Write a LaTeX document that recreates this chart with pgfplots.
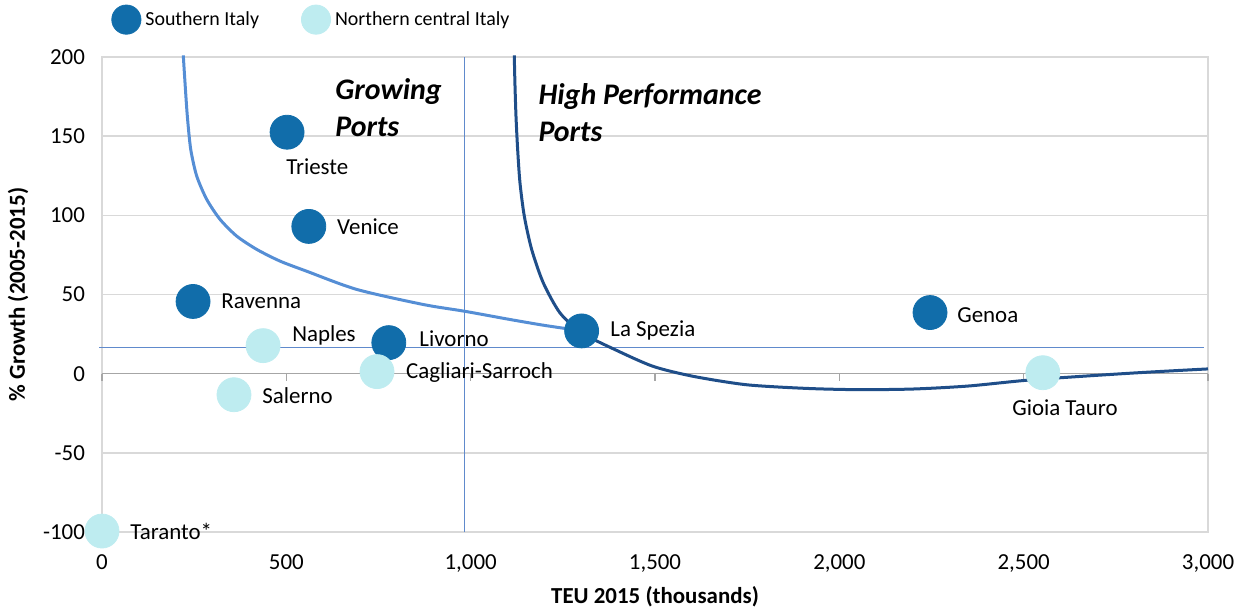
\documentclass[border=0pt]{standalone}
\usepackage{pgfplots}
\pgfplotsset{compat=1.18}
\usepackage{fontspec}
\setmainfont{Carlito}

\definecolor{southc}{RGB}{17,109,170}
\definecolor{northc}{RGB}{190,236,240}
\definecolor{growc}{RGB}{85,142,213}
\definecolor{highc}{RGB}{31,78,137}
\definecolor{refc}{RGB}{96,138,204}
\definecolor{gridc}{RGB}{217,217,217}
\definecolor{axc}{RGB}{166,166,166}

\newcommand{\lbl}{\fontsize{11.5}{13.8}\selectfont}

\begin{document}
\begin{tikzpicture}
\begin{axis}[
  width=553bp, height=237.5bp, scale only axis,
  xmin=0, xmax=3000, ymin=-100, ymax=200,
  xtick={0,500,...,3000}, ytick={-100,-50,...,200},
  /pgf/number format/1000 sep={,},
  /pgf/number format/assume math mode=true,
  tick style={draw=none},
  ymajorgrids, grid style={gridc, line width=0.75bp},
  axis line style={gridc, line width=0.75bp},
  ticklabel style={font=\lbl},
  yticklabel style={xshift=-5bp},
  xticklabel style={yshift=-8bp},
  clip=false,
  legend columns=2,
  legend style={at={(rel axis cs:0,1)}, anchor=south west, xshift=1.5bp, yshift=9bp,
    draw=none, fill=none, font=\fontsize{10}{12}\selectfont,
    /tikz/every even column/.append style={column sep=19bp}},
  legend image code/.code={\fill[#1] (7.3bp,0bp) circle (7.3bp);},
]
% x axis line at zero with its ticks
\draw[axc, line width=0.75bp] (axis cs:0,0) -- (axis cs:3000,0);
\pgfplotsinvokeforeach{0,500,1000,1500,2000,2500,3000}{
  \draw[axc, line width=0.75bp] (axis cs:#1,0) -- ([yshift=-3.5bp]axis cs:#1,0);
}

% Southern Italy (dark)
\addplot[only marks, mark=*, mark size=8.5bp, color=southc, mark options={draw=none}]
  coordinates {(502,152.5) (561,93) (247,45.6) (778,19.6) (1301,27) (2246,38.6)};
\addlegendentry{Southern Italy}

% Northern central Italy (light)
\addplot[only marks, mark=*, mark size=8.5bp, color=northc, mark options={draw=none}]
  coordinates {(437,17.7) (358,-13.3) (746,1.3) (2552,0.6) (0,-99.4)};
\addlegendentry{Northern central Italy}

% reference lines
\addplot[refc, line width=0.7bp, forget plot] coordinates {(-8,16.5) (2990,16.5)};
\addplot[refc, line width=0.7bp, forget plot] coordinates {(983,-100) (983,200)};

% Growing ports frontier
\addplot[growc, line width=1.5bp, smooth, tension=0.45, forget plot] coordinates {
  (220.5,201) (225.1,184) (231.4,162.8) (240.6,141.8) (256.8,124.9) (284,110.1)
  (320,97.5) (365.3,86.9) (419.6,78.5) (482.8,71.1) (555.2,64.7) (691,53.2)
  (871,43.7) (984,39.4) (1107,34.2) (1200,30.5) (1302,27)};

% High performance frontier
\addplot[highc, line width=1.5bp, smooth, tension=0.45, forget plot] coordinates {
  (1118.3,201) (1120,184) (1122.9,162.8) (1127.4,141.8) (1133.7,120.7)
  (1145.4,99.6) (1165.4,78.5) (1196.9,57.4) (1242.2,38.4) (1301,25.8)
  (1391.4,15.2) (1495,4.6) (1604,-1.7) (1748,-7) (1910,-9.3) (2050,-10.1)
  (2200,-9.7) (2350,-7.8) (2526,-3.8) (2797,0.4) (3000,3)};

% point labels
\node[font=\lbl, inner sep=0] at (axis cs:584,131) {Trieste};
\node[font=\lbl, anchor=west, inner sep=0] at (axis cs:637,93) {Venice};
\node[font=\lbl, anchor=west, inner sep=0] at (axis cs:323,45.6) {Ravenna};
\node[font=\lbl, anchor=west, inner sep=0] at (axis cs:515,24) {Naples};
\node[font=\lbl, anchor=west, inner sep=0] at (axis cs:860,22) {Livorno};
\node[font=\lbl, anchor=west, inner sep=0] at (axis cs:824,0.6) {Cagliari-Sarroch};
\node[font=\lbl, anchor=west, inner sep=0] at (axis cs:434,-14) {Salerno};
\node[font=\lbl, anchor=west, inner sep=0] at (axis cs:1378,27) {La Spezia};
\node[font=\lbl, anchor=west, inner sep=0] at (axis cs:2319,37) {Genoa};
\node[font=\lbl, inner sep=0] at (axis cs:2612,-21.5) {Gioia Tauro};
\node[font=\lbl, anchor=west, inner sep=0] at (axis cs:76,-99.4) {Taranto*};

% region titles
\node[anchor=west, align=left, inner sep=0, font=\fontsize{15}{18.5}\selectfont\bfseries\itshape]
  at (axis cs:632,168) {Growing\\Ports};
\node[anchor=west, align=left, inner sep=0, font=\fontsize{15}{18.5}\selectfont\bfseries\itshape]
  at (axis cs:1183,165) {High Performance\\Ports};

\coordinate (ll) at (rel axis cs:0,0);
\coordinate (ur) at (rel axis cs:1,1);
\coordinate (yl) at (rel axis cs:0,0.5);
\coordinate (xl) at (rel axis cs:0.5,0);
\end{axis}
\node[rotate=90, font=\lbl\bfseries] at ([xshift=-42bp]yl) {\% Growth (2005-2015)};
\node[font=\lbl\bfseries] at ([yshift=-32.5bp]xl) {TEU 2015 (thousands)};
\pgfresetboundingbox
\path[use as bounding box] ([xshift=-51bp,yshift=-39.5bp]ll) rectangle ([xshift=19.5bp,yshift=28.5bp]ur);
\end{tikzpicture}
\end{document}
